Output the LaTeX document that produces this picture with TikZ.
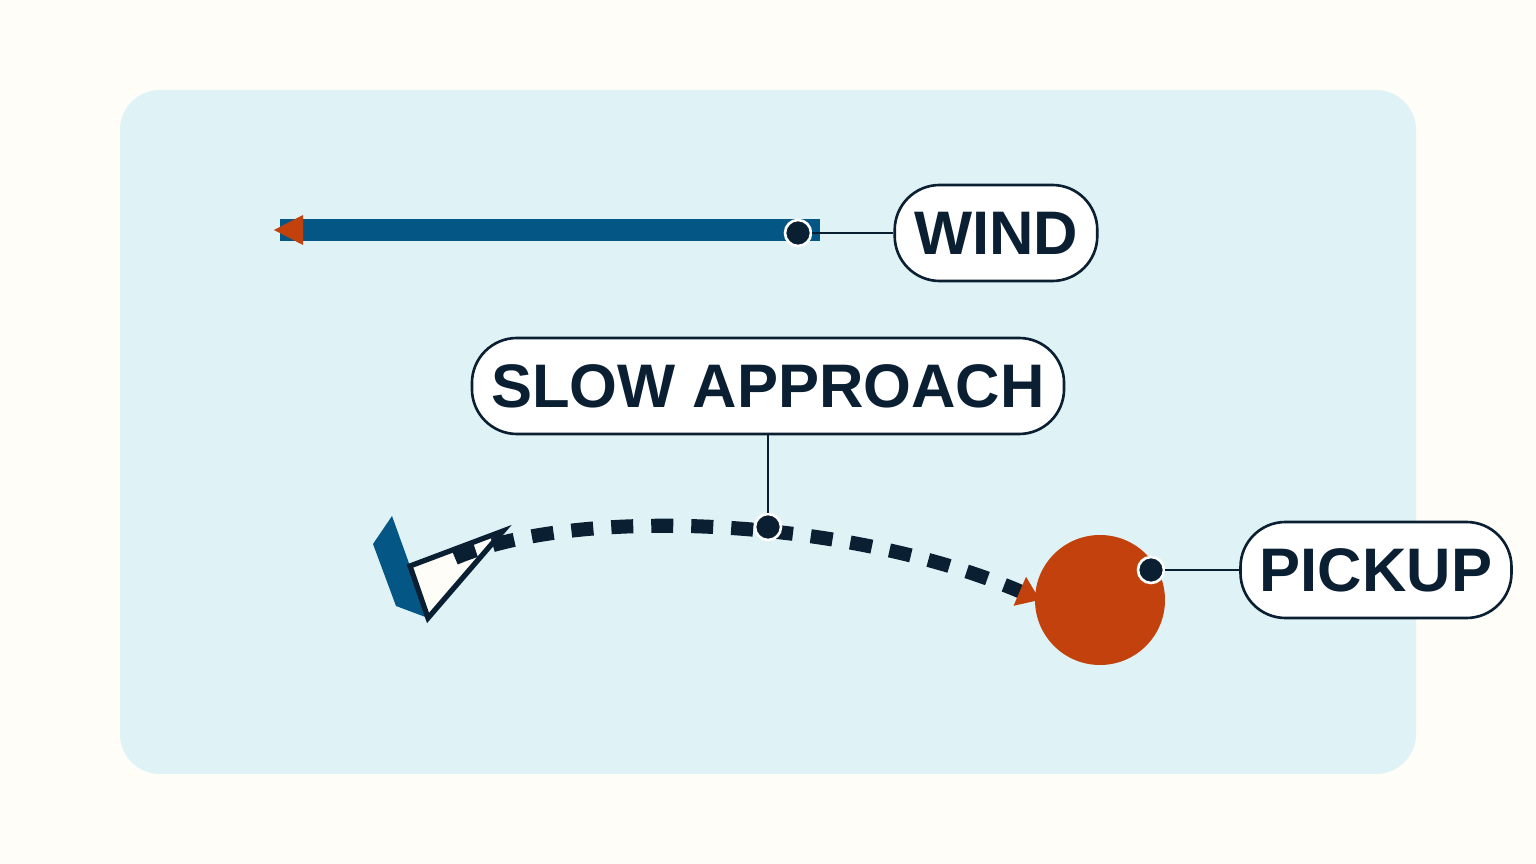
\documentclass[tikz,border=0pt]{standalone}
\usepackage{fontspec}
\setmainfont{Liberation Sans}
\usetikzlibrary{arrows.meta}
\definecolor{paper}{HTML}{FEFDF8}
\definecolor{panel}{HTML}{DFF3F6}
\definecolor{sea}{HTML}{045784}
\definecolor{rust}{HTML}{C2410C}
\definecolor{ink}{HTML}{0B1F33}
\tikzset{
  tag/.style={draw=ink, line width=1.5pt, fill=white, rounded corners=45*0.02cm,
    minimum height=96*0.02cm, inner xsep=11pt, text=ink,
    font=\fontsize{35}{40}\selectfont\bfseries},
  pin/.style={circle, fill=ink, draw=white, line width=1.5pt, minimum size=26*0.02cm, inner sep=0pt},
  lead/.style={draw=ink, line width=1.5pt}
}
\begin{document}
\begin{tikzpicture}[x=0.02cm, y=-0.02cm]
   \fill[paper] (0,0) rectangle (1536,864);
   \useasboundingbox (0,0) rectangle (1536,864);
   \fill[panel, rounded corners=40*0.02cm] (120,90) rectangle (1416,774);
   % wind
   \fill[sea] (280,219) rectangle (820,241);
   \fill[rust] (274,230) -- (303,215) -- (303,245) -- cycle;
   \node[tag] (wind) at (996,233) {WIND};
   \node[pin] (winddot) at (798,233) {};
   \draw[lead] (winddot) -- (wind);
   % boat
   \fill[sea] (392,516) -- (373,544) -- (396,606) -- (428,618) -- (410,566) -- cycle;
   \filldraw[fill=paper, draw=ink, line width=3pt, line join=miter]
     (410,566) -- (503,531) -- (428,618) -- cycle;
   % pickup
   \fill[rust] (1100,600) circle (65);
   \coordinate (start) at (455,558);
   \coordinate (goal) at (1040,600);
   \draw[ink, line width=8pt, dash pattern=on 22*0.02cm off 18*0.02cm,
     -{Triangle[length=22*0.02cm, width=30*0.02cm, color=rust]}]
     (start) .. controls (580,505) and (850,518) .. (goal);
   \node[tag] (approach) at (768,386) {SLOW APPROACH};
   \node[pin] (approachdot) at (768,527) {};
   \draw[lead] (approachdot) -- (approach);
   \node[tag] (pickup) at (1376,570) {PICKUP};
   \node[pin] (pickupdot) at (1151,570) {};
   \draw[lead] (pickupdot) -- (pickup);
\end{tikzpicture}
\end{document}
